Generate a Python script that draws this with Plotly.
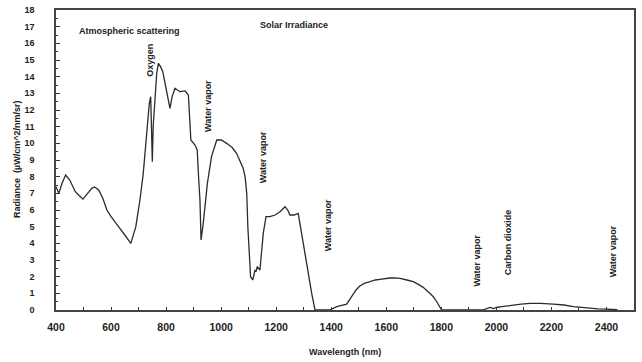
import plotly.graph_objects as go

wavelength = [400, 410, 422, 435, 450, 470, 485, 498, 515, 530, 540, 555, 570, 585, 600, 615, 632, 650, 662, 672,
              690, 705, 717, 729, 739, 744, 747, 750, 753, 757, 766, 772, 780, 788, 800, 814, 822, 832, 850, 869,
              881, 886, 890, 905, 913, 918, 923, 927, 935, 950, 965, 984, 1000, 1020, 1040, 1056, 1070, 1080, 1087,
              1093, 1097, 1102, 1107, 1115, 1123, 1127, 1131, 1141, 1153, 1163, 1177, 1196, 1214, 1232, 1242, 1250,
              1265, 1280, 1296, 1313, 1329, 1341, 1395, 1420, 1440, 1456, 1474, 1490, 1504, 1520, 1541, 1560, 1577,
              1595, 1613, 1630, 1650, 1675, 1698, 1715, 1734, 1755, 1771, 1785, 1801, 1950, 1965, 1977, 1990, 2000,
              2019, 2040, 2061, 2090, 2122, 2160, 2207, 2245, 2280, 2310, 2340, 2370, 2400, 2440]
radiance = [7.4, 7.0, 7.6, 8.1, 7.8, 7.1, 6.85, 6.65, 7.0, 7.3, 7.38, 7.2, 6.7, 6.0, 5.6, 5.3, 4.9, 4.5, 4.2, 4.0,
            5.0, 6.6, 8.2, 10.4, 12.4, 12.8, 11.0, 8.9, 11.0, 12.2, 14.2, 14.8, 14.6, 14.3, 13.3, 12.1, 12.8, 13.3, 13.1, 13.15,
            12.9, 11.5, 10.2, 9.9, 9.6, 8.0, 6.6, 4.2, 5.2, 7.6, 9.2, 10.2, 10.2, 10.0, 9.75, 9.4, 8.9, 8.5, 8.0,
            7.0, 5.0, 3.0, 2.0, 1.8, 2.4, 2.3, 2.6, 2.4, 4.6, 5.6, 5.6, 5.7, 5.9, 6.2, 6.0, 5.7,
            5.7, 5.8, 4.2, 2.6, 1.0, 0.0, 0.0, 0.2, 0.3, 0.35, 0.8, 1.2, 1.44, 1.6, 1.7, 1.8, 1.84,
            1.9, 1.92, 1.93, 1.9, 1.8, 1.7, 1.55, 1.36, 1.05, 0.8, 0.45, 0.0, 0.0, 0.1, 0.15, 0.08, 0.15,
            0.2, 0.25, 0.3, 0.35, 0.4, 0.4, 0.35, 0.3, 0.2, 0.15, 0.1, 0.07, 0.05, 0.02]

x_ticks = [400, 600, 800, 1000, 1200, 1400, 1600, 1800, 2000, 2200, 2400]
y_ticks = list(range(0, 19))

x_title = "Wavelength (nm)"
y_title = "Radiance  (µW/cm^2/nm/sr)"

horizontal_labels = ["Atmospheric scattering", "Solar Irradiance"]
horizontal_x = [475, 1134]
horizontal_y = [16.76, 17.1]

band_labels = ["Oxygen", "Water vapor", "Water vapor", "Water vapor", "Water vapor", "Carbon dioxide", "Water vapor"]
band_x = [741, 950, 1151, 1389, 1928, 2043, 2425]
band_y = [15.0, 12.27, 9.15, 5.1, 2.94, 4.08, 3.54]

FONT = "Liberation Sans"
fig = go.Figure()
fig.add_trace(go.Scatter(x=wavelength, y=radiance, mode="lines",
                         line=dict(color="#2b2b2b", width=1.3), showlegend=False))

for t, x, y in zip(horizontal_labels, horizontal_x, horizontal_y):
    fig.add_annotation(x=x, y=y, xref="x", yref="y", text=t, showarrow=False,
                       xanchor="left", yanchor="middle",
                       font=dict(family=FONT, size=9, color="#222", weight="bold"))
for t, x, y in zip(band_labels, band_x, band_y):
    fig.add_annotation(x=x, y=y, xref="x", yref="y", text=t, showarrow=False, textangle=-90,
                       xanchor="center", yanchor="middle",
                       font=dict(family=FONT, size=9, color="#222", weight="bold"))

# axis titles
fig.add_annotation(x=0.5, y=-42, xref="paper", yref="paper", yshift=0, text=x_title, showarrow=False,
                   font=dict(family=FONT, size=9, color="#222", weight="bold"))
fig.add_annotation(x=0, y=0.5, xref="paper", yref="paper", xshift=-39, text=y_title, showarrow=False,
                   textangle=-90, xanchor="center", yanchor="middle",
                   font=dict(family=FONT, size=9, color="#222", weight="bold"))
fig.layout.annotations[-2].update(y=0, yshift=-42, yanchor="middle")

fig.update_layout(
    width=642, height=362,
    margin=dict(l=56, r=8, t=10, b=52),
    paper_bgcolor="white", plot_bgcolor="white",
    font=dict(family=FONT, size=10, color="#222", weight="bold"),
)
fig.update_xaxes(range=[400, 2500], tickvals=x_ticks, ticks="inside", ticklen=3, tickcolor="#333",
                 showline=True, linecolor="#444", linewidth=1.5, mirror=True, showgrid=False, zeroline=False,
                 minor=dict(dtick=100, tick0=400, ticks="inside", ticklen=3, tickcolor="#333"),
                 ticklabelstandoff=7, automargin=False,
                 tickfont=dict(family=FONT, size=10.5, weight="bold"))
fig.update_yaxes(range=[0, 18], tickvals=y_ticks, ticks="inside", ticklen=4, tickcolor="#333",
                 showline=True, linecolor="#444", linewidth=1.5, mirror=True, showgrid=False, zeroline=False,
                 minor=dict(dtick=0.5, ticks="inside", ticklen=2, tickcolor="#333"),
                 ticklabelstandoff=18, automargin=False,
                 tickfont=dict(family=FONT, size=9, weight="bold"))

fig.write_html("out.html")
